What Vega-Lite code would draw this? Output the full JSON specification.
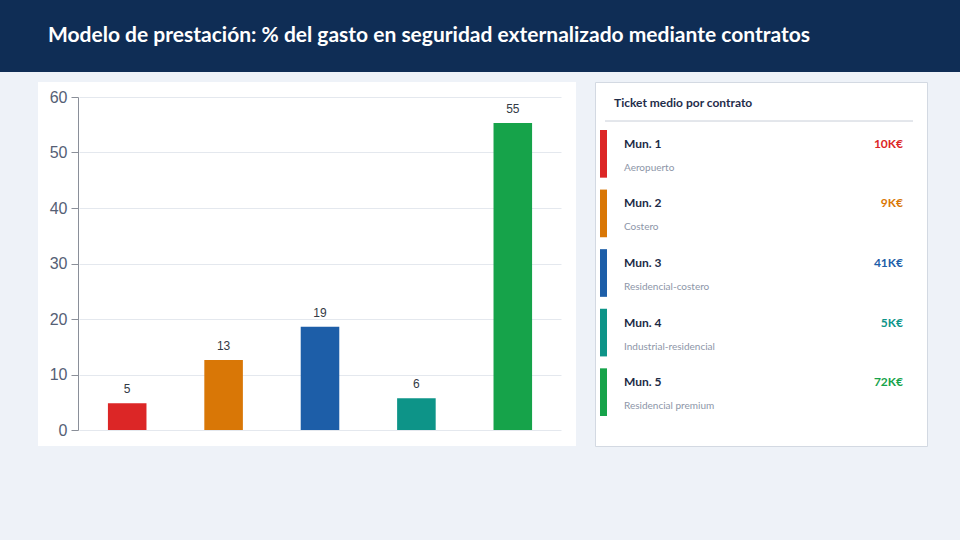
{
  "$schema": "https://vega.github.io/schema/vega-lite/v6.json",
  "background": "#eef2f8",
  "padding": 0,
  "spacing": 9,
  "config": {"view": {"stroke": null}, "font": "Lato"},
  "vconcat": [
    {
      "width": 960,
      "height": 72,
      "view": {"fill": "#0f2d55", "stroke": null},
      "data": {"values": [{"titulo": "Modelo de prestación: % del gasto en seguridad externalizado mediante contratos"}]},
      "mark": {"type": "text", "align": "left", "baseline": "middle", "color": "white", "font": "Lato", "fontWeight": "bold", "fontSize": 21},
      "encoding": {"text": {"field": "titulo"}, "x": {"value": 48}, "y": {"value": 36}}
    },
    {
      "spacing": 18,
      "hconcat": [
        {
          "width": 20,
          "height": 10,
          "data": {"values": []},
          "mark": "point"
        },
        {
          "width": 538,
          "height": 364,
          "view": {"fill": "white", "stroke": null},
          "data": {
            "values": [
              {"municipio": "Mun. 1", "pct": 4.8},
              {"municipio": "Mun. 2", "pct": 12.6},
              {"municipio": "Mun. 3", "pct": 18.6},
              {"municipio": "Mun. 4", "pct": 5.7},
              {"municipio": "Mun. 5", "pct": 55.3}
            ]
          },
          "encoding": {
            "x": {
              "field": "municipio",
              "type": "nominal",
              "sort": null,
              "axis": null,
              "scale": {"range": [41, 523], "paddingInner": 0.6, "paddingOuter": 0.3}
            },
            "y": {
              "field": "pct",
              "type": "quantitative",
              "title": null,
              "scale": {"domain": [0, 60], "range": [348, 15]},
              "axis": {
                "values": [0, 10, 20, 30, 40, 50, 60],
                "offset": -40,
                "grid": true,
                "gridColor": "#e4e8ee",
                "domainColor": "#8a8f99",
                "tickColor": "#8a8f99",
                "tickSize": 7,
                "labelFont": "Liberation Sans",
                "labelFontSize": 16,
                "labelColor": "#556075",
                "labelPadding": 4
              }
            }
          },
          "layer": [
            {
              "mark": {"type": "bar"},
              "encoding": {
                "color": {
                  "field": "municipio",
                  "type": "nominal",
                  "legend": null,
                  "scale": {
                    "domain": ["Mun. 1", "Mun. 2", "Mun. 3", "Mun. 4", "Mun. 5"],
                    "range": ["#dc2626", "#d97706", "#1d5ea8", "#0d9488", "#16a34a"]
                  }
                }
              }
            },
            {
              "mark": {"type": "text", "baseline": "bottom", "dy": -7, "font": "Liberation Sans", "fontSize": 12, "color": "#333a45"},
              "encoding": {"text": {"field": "pct", "type": "quantitative", "format": ".0f"}}
            }
          ]
        },
        {
          "width": 332,
          "height": 364,
          "view": {"fill": "white", "stroke": "#d3d9e2"},
          "layer": [
            {
              "data": {"values": [{"t": "Ticket medio por contrato"}]},
              "mark": {"type": "text", "align": "left", "baseline": "middle", "font": "Lato", "fontWeight": "bold", "fontSize": 12, "color": "#1f2d4a"},
              "encoding": {"text": {"field": "t"}, "x": {"value": 19}, "y": {"value": 21}}
            },
            {
              "data": {"values": [{"t": "separador"}]},
              "mark": {"type": "rule", "color": "#c8ced8", "strokeWidth": 1},
              "encoding": {"x": {"value": 10}, "x2": {"value": 318}, "y": {"value": 39}}
            },
            {
              "data": {
                "values": [
                  {"municipio": "Mun. 1", "tipo": "Aeropuerto", "ticket_k": 10},
                  {"municipio": "Mun. 2", "tipo": "Costero", "ticket_k": 9},
                  {"municipio": "Mun. 3", "tipo": "Residencial-costero", "ticket_k": 41},
                  {"municipio": "Mun. 4", "tipo": "Industrial-residencial", "ticket_k": 5},
                  {"municipio": "Mun. 5", "tipo": "Residencial premium", "ticket_k": 72}
                ]
              },
              "transform": [{"calculate": "datum.ticket_k + 'K€'", "as": "ticket_label"}],
              "encoding": {
                "y": {
                  "field": "municipio",
                  "type": "nominal",
                  "sort": null,
                  "axis": null,
                  "scale": {"range": [48, 334], "paddingInner": 0.2, "paddingOuter": 0}
                }
              },
              "layer": [
                {
                  "mark": {"type": "rect"},
                  "encoding": {
                    "x": {"value": 5},
                    "x2": {"value": 12},
                    "color": {
                      "field": "municipio",
                      "type": "nominal",
                      "legend": null,
                      "scale": {
                        "domain": ["Mun. 1", "Mun. 2", "Mun. 3", "Mun. 4", "Mun. 5"],
                        "range": ["#dc2626", "#d97706", "#1d5ea8", "#0d9488", "#16a34a"]
                      }
                    }
                  }
                },
                {
                  "mark": {"type": "text", "align": "left", "baseline": "middle", "dy": -10, "font": "Lato", "fontWeight": "bold", "fontSize": 12, "color": "#1c2a45"},
                  "encoding": {"text": {"field": "municipio"}, "x": {"value": 29}}
                },
                {
                  "mark": {"type": "text", "align": "left", "baseline": "middle", "dy": 14, "font": "Lato", "fontSize": 10, "color": "#8d96a8"},
                  "encoding": {"text": {"field": "tipo"}, "x": {"value": 29}}
                },
                {
                  "mark": {"type": "text", "align": "right", "baseline": "middle", "dy": -10, "font": "Lato", "fontWeight": "bold", "fontSize": 12},
                  "encoding": {
                    "text": {"field": "ticket_label"},
                    "x": {"value": 308},
                    "color": {"field": "municipio", "type": "nominal", "legend": null}
                  }
                }
              ]
            }
          ]
        }
      ]
    },
    {
      "width": 960,
      "height": 85,
      "data": {"values": []},
      "mark": "point"
    }
  ]
}
